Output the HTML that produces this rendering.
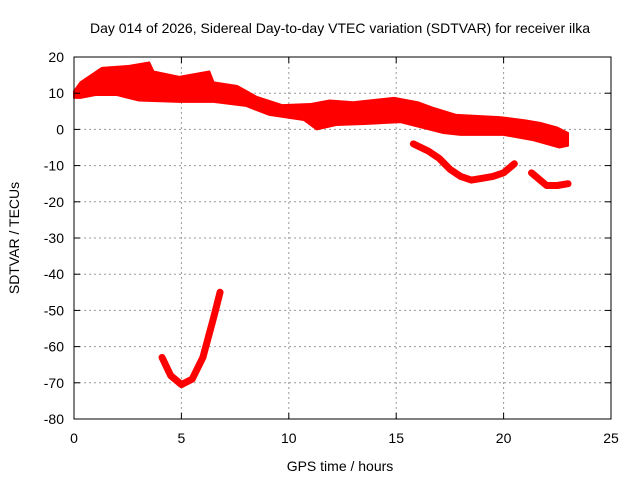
<!DOCTYPE html>
<html><head><meta charset="utf-8"><style>
body{margin:0;background:#fff}
svg text{font-family:"Liberation Sans",sans-serif;font-size:14px;fill:#000}
</style></head><body>
<svg id="chart" width="640" height="480" viewBox="0 0 640 480">
<text x="340" y="33" text-anchor="middle">Day 014 of 2026, Sidereal Day-to-day VTEC variation (SDTVAR) for receiver ilka</text>
<text x="340" y="471" text-anchor="middle">GPS time / hours</text>
<text transform="translate(19,238) rotate(-90)" text-anchor="middle">SDTVAR / TECUs</text>
<g id="grid"></g><g id="series"></g><g id="axes"></g>
</svg>
<script>
const xTicks=[0,5,10,15,20,25];
const yTicks=[20,10,0,-10,-20,-30,-40,-50,-60,-70,-80];
const bandUpper=[[0,10.5],[0.3,13],[1.3,17],[2.5,17.5],[3.5,18.5],[3.7,16],[4.9,14.5],[6.3,16],[6.5,13],[7.6,12],[8.5,9],[9.7,6.7],[11,7],[11.9,8],[13,7.5],[14.9,8.7],[16,7.5],[16.7,6],[17.8,4],[19.8,3.4],[21,2.5],[21.7,1.8],[22.5,0.5],[23,-1]];
const bandLower=[[23,-4.5],[22.6,-5],[21.4,-3],[20,-1.5],[18,-1.5],[17.2,-1],[15.2,2],[13.5,1.5],[12.2,1.2],[11.3,0],[10.7,2.6],[9.1,4],[8,6.5],[6.5,7.6],[4.9,7.6],[3,8],[2,9.5],[1,9.5],[0.3,8.7],[0,8.7]];
const lowA=[[15.8,-4],[16.5,-6],[17,-8],[17.5,-11],[18,-13],[18.5,-14],[19,-13.5],[19.5,-13],[20,-12],[20.5,-9.5]];
const lowB=[[21.3,-12],[21.7,-14],[22,-15.5],[22.5,-15.5],[23,-15]];
const dip=[[4.1,-63],[4.5,-68],[5,-70.5],[5.5,-69],[6,-63],[6.5,-52],[6.8,-45]];
const seriesList=[lowA,lowB,dip];
const seriesNames=['low-a','low-b','dip'];

const X0=74,X1=611,Y0=419,Y1=57;
const xs=v=>X0+(v-0)/25*(X1-X0);
const ys=v=>Y0-(v+80)/100*(Y0-Y1);
const NS='http://www.w3.org/2000/svg';
function mk(t,a,p){const e=document.createElementNS(NS,t);for(const k in a)e.setAttribute(k,a[k]);p.appendChild(e);return e;}
const grid=document.getElementById('grid'),axes=document.getElementById('axes'),ser=document.getElementById('series');
xTicks.forEach(v=>{
  const x=xs(v);
  if(v>0&&v<25){const g=mk('line',{x1:x,x2:x,y1:Y0,y2:Y1,stroke:'#999','stroke-dasharray':'2,3'},grid);
  
  }
  mk('line',{x1:x,x2:x,y1:Y0,y2:Y0-6,stroke:'#000'},axes);
  mk('line',{x1:x,x2:x,y1:Y1,y2:Y1+6,stroke:'#000'},axes);
  const t=mk('text',{x:x,y:Y0+24,'text-anchor':'middle'},axes);t.textContent=v;
  
  
});
yTicks.forEach(v=>{
  const y=ys(v);
  if(v>-80&&v<20){const g=mk('line',{x1:X0,x2:X1,y1:y,y2:y,stroke:'#999','stroke-dasharray':'2,3'},grid);
  
  }
  mk('line',{x1:X0,x2:X0+6,y1:y,y2:y,stroke:'#000'},axes);
  mk('line',{x1:X1,x2:X1-6,y1:y,y2:y,stroke:'#000'},axes);
  const t=mk('text',{x:X0-10,y:y+5,'text-anchor':'end'},axes);t.textContent=v;
  
  
});
const frame=mk('rect',{x:X0,y:Y1,width:X1-X0,height:Y0-Y1,fill:'none',stroke:'#000'},axes);


const band=mk('polygon',{points:bandUpper.concat(bandLower).map(d=>xs(d[0])+','+ys(d[1])).join(' '),fill:'#ff0000',stroke:'#ff0000','stroke-width':2,'stroke-linejoin':'round'},ser);


seriesList.forEach((s,i)=>{
  const p=mk('polyline',{points:s.map(d=>xs(d[0])+','+ys(d[1])).join(' '),fill:'none',stroke:'#ff0000','stroke-width':7,'stroke-linejoin':'round','stroke-linecap':'round'},ser);
  
  
});
</script>
</body></html>
